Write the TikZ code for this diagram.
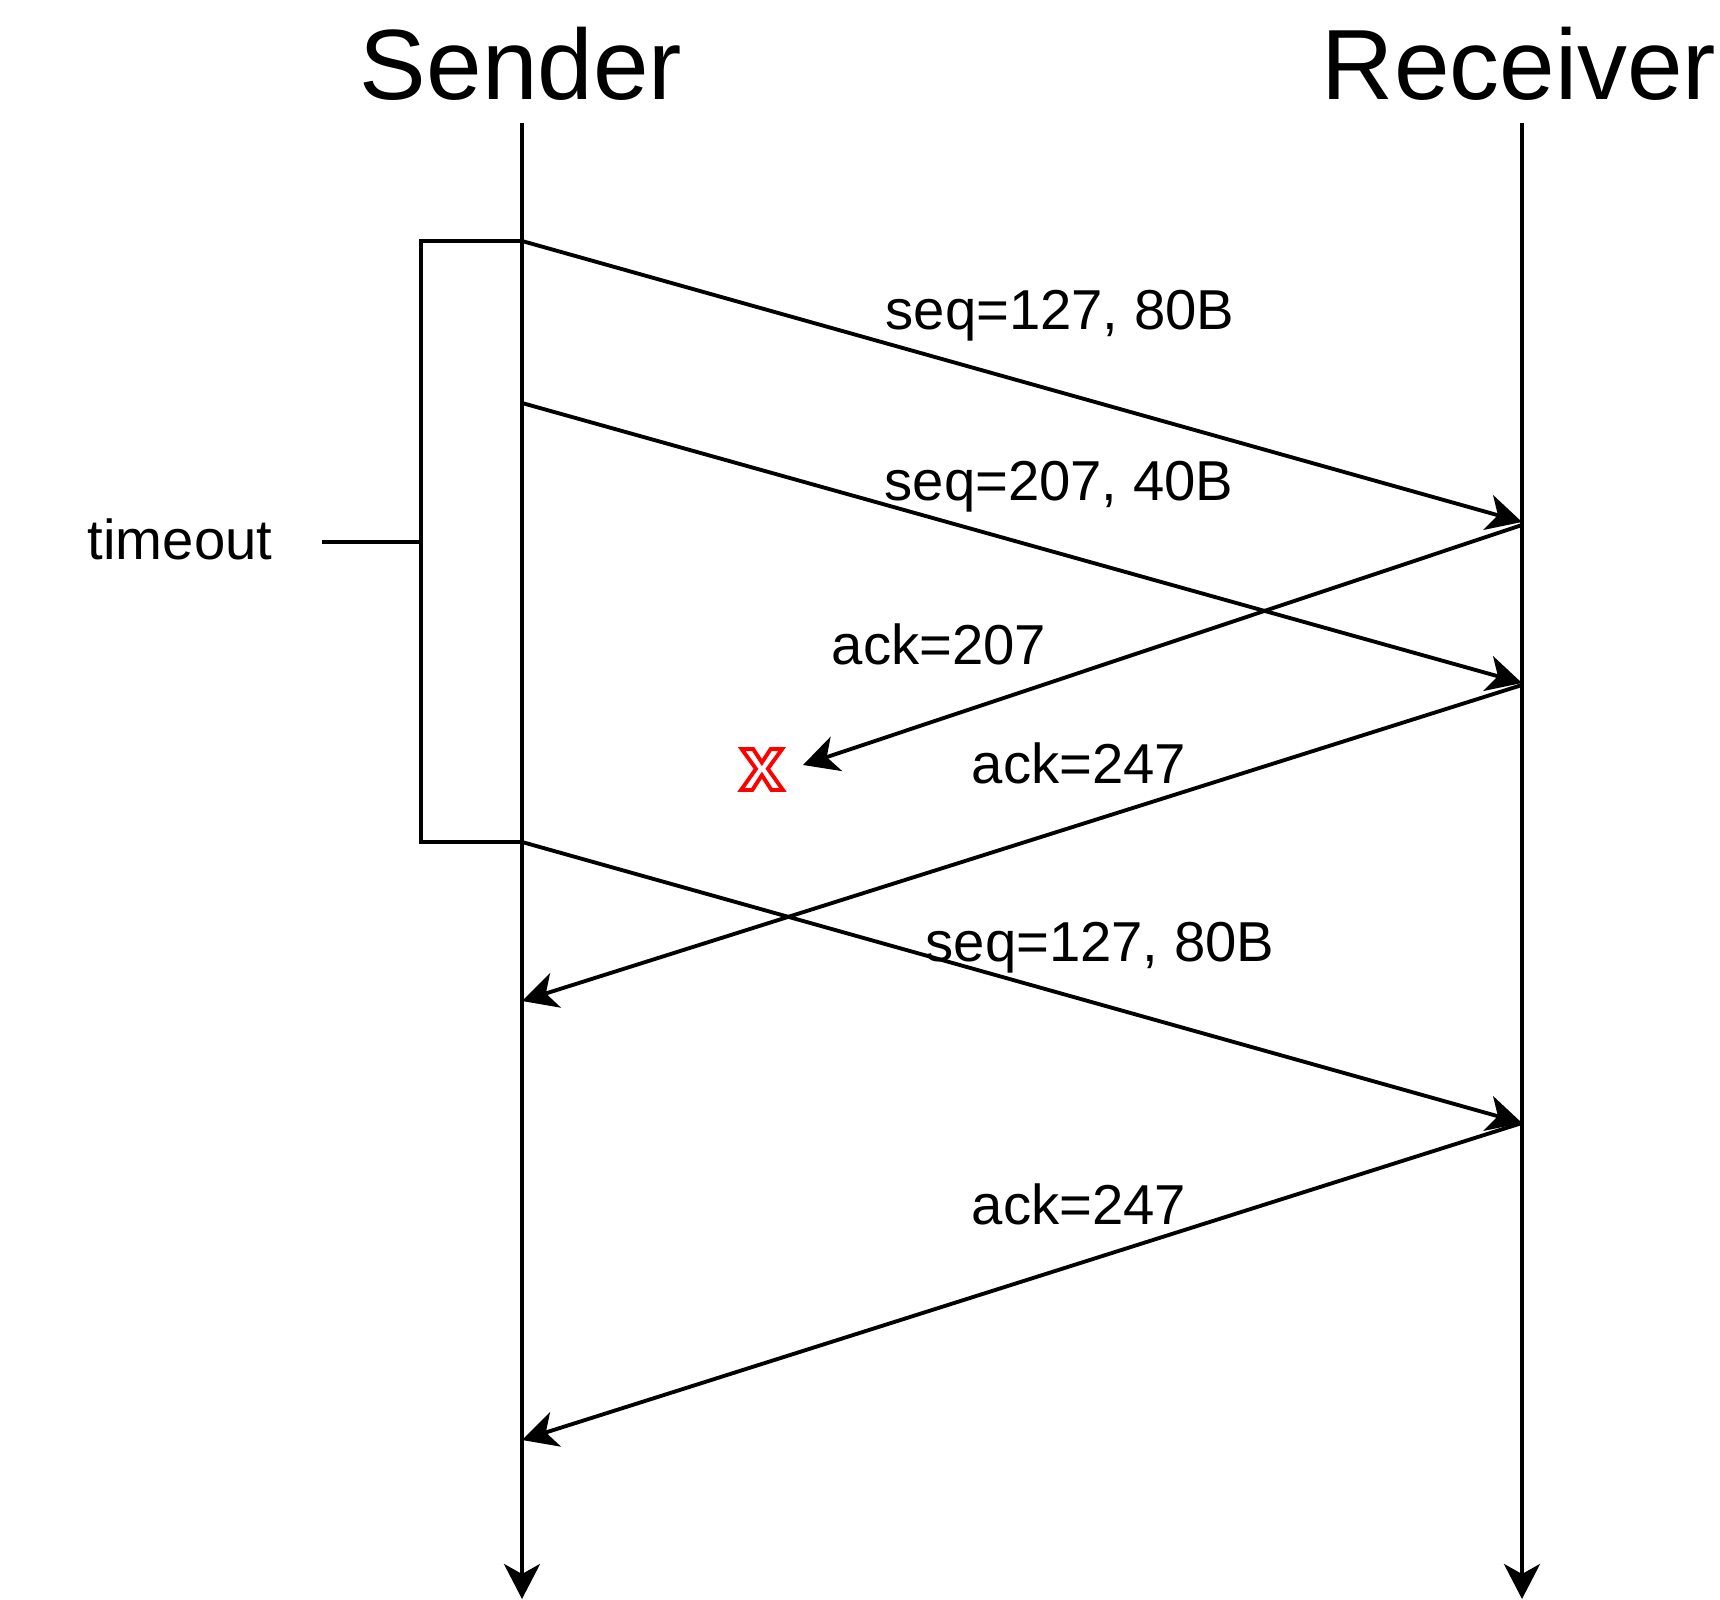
\documentclass[tikz,border=0pt]{standalone}
\usepackage{fontspec}
\setmainfont{Liberation Sans}
\usetikzlibrary{arrows.meta}

\begin{document}
\begin{tikzpicture}[x=0.01cm, y=-0.01cm, line width=1.1pt,
  actor/.style = {font=\fontsize{28.4}{28.4}\selectfont, inner sep=0, anchor=base},
  msgtext/.style = {font=\fontsize{16}{16}\selectfont, inner sep=0, anchor=base},
  lostmark/.style = {font=\fontsize{22}{22}\selectfont\bfseries, text=red, inner sep=0, anchor=base},
  msg/.style = {-{Stealth[length=0.35cm, width=0.36cm, inset=0.1cm]}},]

\useasboundingbox (0,0) rectangle (1720,1600);

\node[actor] (S) at (521,100) {Sender};
\node[actor] (R) at (1519,100) {Receiver};

\coordinate (S0) at (522,123);
\coordinate (S1) at (522,1599);
\coordinate (R0) at (1522,123);
\coordinate (R1) at (1522,1599);

\coordinate (A) at (522,241);
\coordinate (B) at (1522,522);
\coordinate (C) at (522,403);
\coordinate (D) at (1522,683);
\coordinate (E) at (522,842);
\coordinate (F) at (1522,1123);
\coordinate (G) at (522,1001);
\coordinate (H) at (522,1440);
\coordinate (B2) at (1522,525);
\coordinate (D2) at (1522,685);
\coordinate (L) at (803,765);
\coordinate (T0) at (421,241);
\coordinate (T1) at (421,542);
\coordinate (T2) at (322,542);

\node[msgtext] (l1) at (1060,330) {seq=127, 80B};
\node[msgtext] (l2) at (1059,501) {seq=207, 40B};
\node[msgtext] (l3) at (939,665) {ack=207};
\node[msgtext] (l4) at (1079,784) {ack=247};
\node[msgtext] (l5) at (1100,961) {seq=127, 80B};
\node[msgtext] (l6) at (1079,1224) {ack=247};
\node[msgtext] (timeout) at (180,560) {timeout};
\node[lostmark] (lost) at (762,790) {\special{pdf:literal direct 1 Tr 1.1 w}x\special{pdf:literal direct 0 Tr}};

\draw[msg] (S0) -- (S1);
\draw[msg] (R0) -- (R1);

\draw (T0) rectangle (E);
\draw (T2) -- (T1);

\draw[msg] (A) -- (B);
\draw[msg] (C) -- (D);
\draw[msg] (B2) -- (L);
\draw[msg] (D2) -- (G);
\draw[msg] (E) -- (F);
\draw[msg] (F) -- (H);

\end{tikzpicture}
\end{document}
